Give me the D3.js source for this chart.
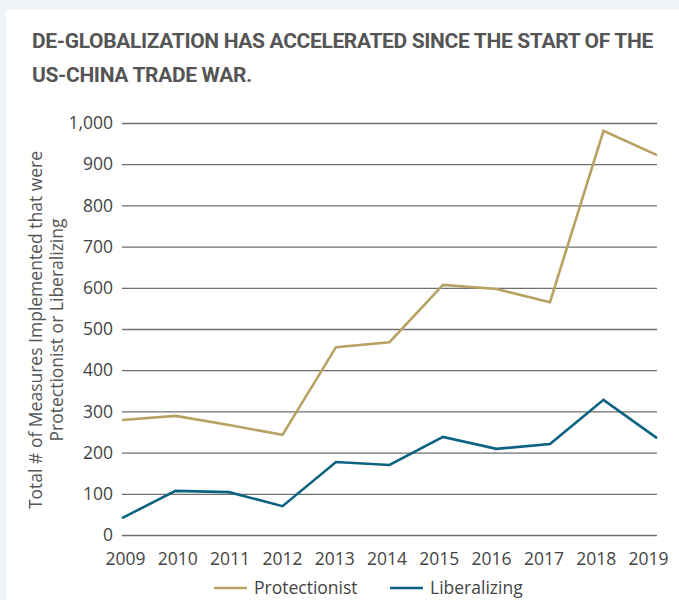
<!DOCTYPE html>
<html>
<head>
<meta charset="utf-8">
<script src="https://cdn.jsdelivr.net/npm/d3@7"></script>
<style>
  body { margin: 0; background: #eef3f7; }
  #chart { position: absolute; left: 6px; top: 10px; width: 673px; height: 590px; background: #fff; }
  svg { display: block; }
</style>
</head>
<body>
<div id="chart"></div>
<script>
const years = [2009, 2010, 2011, 2012, 2013, 2014, 2015, 2016, 2017, 2018, 2019];
const protectionist = [279, 289, 267, 243, 456, 468, 607, 597, 565, 981, 922];
const liberalizing = [41, 107, 104, 70, 177, 170, 238, 209, 221, 328, 235];
const yTicks = [0, 100, 200, 300, 400, 500, 600, 700, 800, 900, 1000];

const width = 673, height = 590;
const font = "'Open Sans', sans-serif";
const svg = d3.select("#chart").append("svg")
    .attr("width", width)
    .attr("height", height)
    .style("font-family", font);

// title
const title = svg.append("text")
    .attr("fill", "#555")
    .attr("font-family", "Roboto, sans-serif")
    .attr("font-weight", "bold")
    .attr("font-size", 21)
    .attr("letter-spacing", "-0.35");
title.append("tspan").attr("x", 26).attr("y", 38).text("DE-GLOBALIZATION HAS ACCELERATED SINCE THE START OF THE");
title.append("tspan").attr("x", 26).attr("y", 72).text("US-CHINA TRADE WAR.");

const x = d3.scaleLinear().domain([2009, 2019]).range([116, 651]);
const xLabel = d3.scaleLinear().domain([2009, 2019]).range([119, 642]);
const y = d3.scaleLinear().domain([0, 1000]).range([525, 113]);

// gridlines + y labels
const yAxis = svg.append("g")
    .attr("transform", "translate(116,0)")
    .call(d3.axisLeft(y).tickValues(yTicks).tickSize(-535).tickPadding(9).tickFormat(d3.format(",")));
yAxis.select(".domain").remove();
yAxis.selectAll(".tick line").attr("stroke", "#6f6f6f").attr("stroke-width", 1.3);
yAxis.selectAll(".tick text").attr("fill", "#444").attr("font-size", 17.5).attr("font-family", font);

// x labels
const xAxis = svg.append("g")
    .attr("transform", "translate(0,525)")
    .call(d3.axisBottom(xLabel).tickValues(years).tickSize(0).tickPadding(18).tickFormat(d3.format("d")));
xAxis.select(".domain").remove();
xAxis.selectAll(".tick text").attr("fill", "#444").attr("font-size", 17.5).attr("font-family", font);

// y axis title
const yt = svg.append("text")
    .attr("transform", "translate(36,320) rotate(-90)")
    .attr("text-anchor", "middle")
    .attr("fill", "#555")
    .attr("font-size", 17.5);
yt.append("tspan").attr("x", 0).attr("y", 0).text("Total # of Measures Implemented that were");
yt.append("tspan").attr("x", 0).attr("y", 21).text("Protectionist or Liberalizing");

const line = d3.line().x((d, i) => x(years[i])).y(d => y(d));

const series = [
    { name: "Protectionist", values: protectionist, color: "#b7a263" },
    { name: "Liberalizing", values: liberalizing, color: "#0c6281" }
];

svg.selectAll("path.series")
    .data(series)
    .join("path")
    .attr("class", "series")
    .attr("d", d => line(d.values))
    .attr("fill", "none")
    .attr("stroke", d => d.color)
    .attr("stroke-width", 2.6);

// legend
const legendX = [208, 384];
const legend = svg.selectAll("g.legend")
    .data(series)
    .join("g")
    .attr("class", "legend")
    .attr("transform", (d, i) => `translate(${legendX[i]},578)`);
legend.append("line")
    .attr("x1", 0).attr("x2", 33).attr("y1", 0).attr("y2", 0)
    .attr("stroke", d => d.color)
    .attr("stroke-width", 2.6);
legend.append("text")
    .attr("x", 40).attr("y", 6)
    .attr("fill", "#444")
    .attr("font-size", 17.5)
    .text(d => d.name);
</script>
</body>
</html>
